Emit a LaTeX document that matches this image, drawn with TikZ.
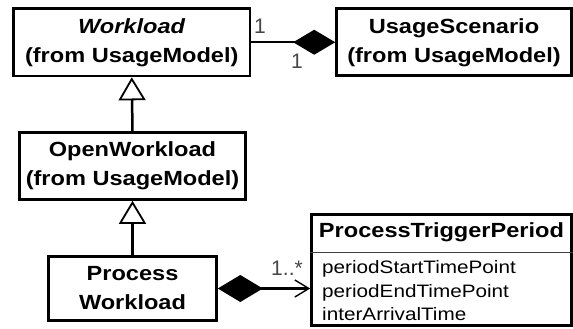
\documentclass[tikz,border=0pt]{standalone}
\usepackage{fontspec}
\setmainfont{Liberation Sans}[FakeStretch=1.15]
\newfontfamily\plainsans{Liberation Sans}
\usetikzlibrary{arrows.meta}
\begin{document}
\begin{tikzpicture}[x=1pt,y=-1pt,
  umlbox/.style={draw, line width=2.6pt, inner sep=0pt, align=center,
    font=\bfseries\fontsize{20.5}{29}\selectfont},
  attr/.style={anchor=base west, inner sep=0pt, font=\fontsize{18}{22}\selectfont},
  mult/.style={anchor=base, inner sep=0pt, text=black!72, font=\plainsans\fontsize{21}{24}\selectfont},
  link/.style={line width=2.5pt},
  gen/.style={link, -{Triangle[open, length=23pt, width=27pt, line width=1.8pt]}},
  comp/.style={link, -{Diamond[length=42pt, width=25pt]}},
]
\useasboundingbox (0,0) rectangle (573,329);

% classes
\node[umlbox, minimum width=236.5pt, minimum height=67.5pt] (wl) at (131.75,42.25)
  {\textit{Workload}\\(from UsageModel)};
\node[umlbox, minimum width=235pt, minimum height=67pt] (us) at (454,42.25)
  {UsageScenario\\(from UsageModel)};
\node[umlbox, minimum width=226pt, minimum height=67pt] (ow) at (132.5,166)
  {OpenWorkload\\(from UsageModel)};
\node[umlbox, minimum width=168pt, minimum height=64pt] (pw) at (132.5,288.5)
  {Process\\Workload};
\node[draw, line width=2.6pt, inner sep=0pt, minimum width=260pt, minimum height=111pt] (ptp) at (441.5,270) {};

% ProcessTriggerPeriod compartments
\node[anchor=base, inner sep=0pt, font=\bfseries\fontsize{20.5}{29}\selectfont] (ptpname) at (441.5,237) {ProcessTriggerPeriod};
\draw[line width=0.8pt, black!75] (ptp.west |- 0,252) -- (ptp.east |- 0,252);
\node[attr] (a1) at (322,273) {periodStartTimePoint};
\node[attr] (a2) at (322,297) {periodEndTimePoint};
\node[attr] (a3) at (322,320) {interArrivalTime};

% relations
\draw[gen] (ow.north) -- (wl.south);
\draw[gen] (pw.north) -- (ow.south);
\draw[comp] (wl.east) -- (us.west);
\draw[link, {Diamond[length=45pt, width=27pt]}-{Straight Barb[length=14pt, width=17pt, line width=1.4pt]}]
  (pw.east) -- (ptp.west |- pw.east);

% multiplicities
\node[mult] (m1) at (260,34) {1};
\node[mult] (m2) at (297,69) {1};
\node[mult] (m3) at (287,275) {1..*};
\end{tikzpicture}
\end{document}
